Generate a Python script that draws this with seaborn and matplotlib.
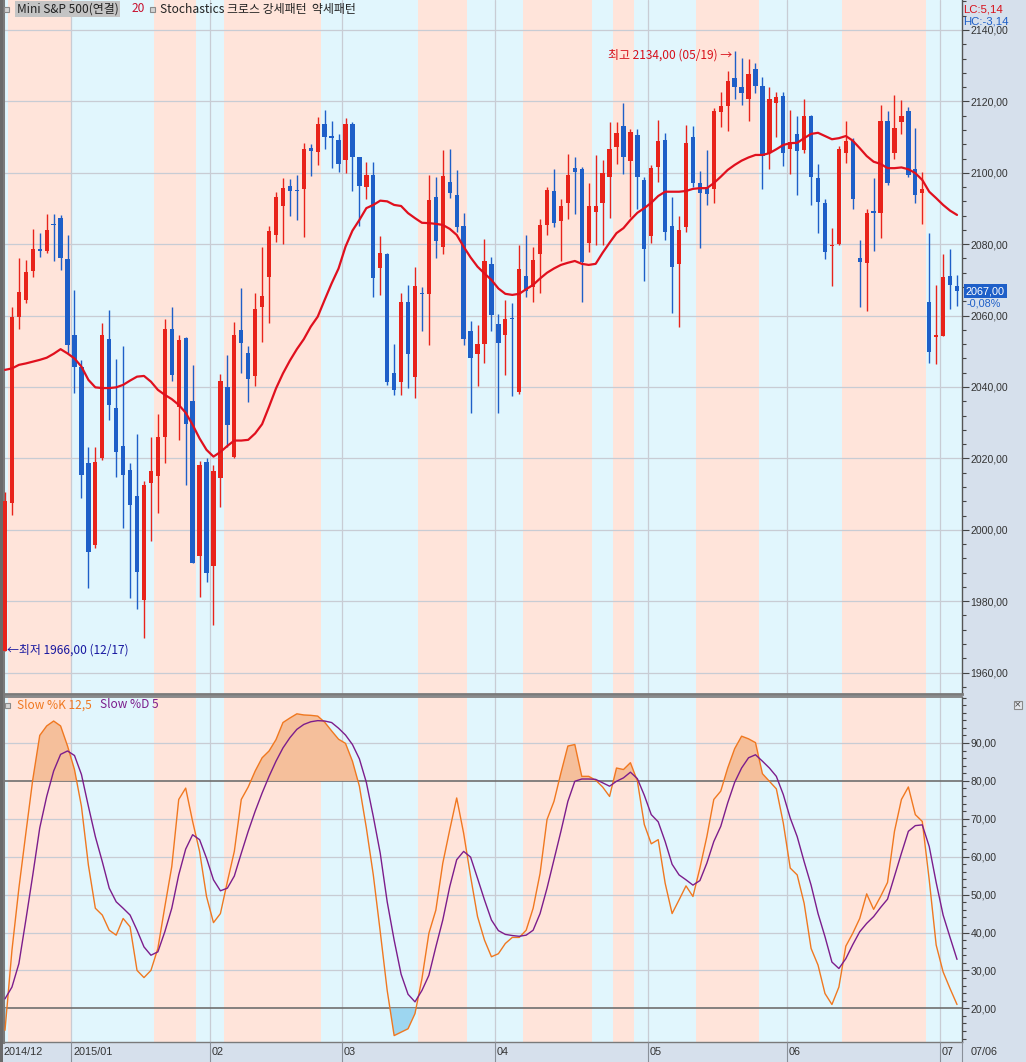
import numpy as np
import pandas as pd
import matplotlib
matplotlib.use("Agg")
import matplotlib.pyplot as plt
import seaborn as sns
from matplotlib.patches import Rectangle
from matplotlib.ticker import MultipleLocator, FuncFormatter

W, H = 1026, 1062

# trading days (US holidays off, Good Friday traded)
holidays = pd.to_datetime(["2014-12-25", "2015-01-01", "2015-01-19",
                           "2015-02-16", "2015-05-25", "2015-07-03"])
dates = pd.bdate_range("2014-12-17", "2015-07-06")
dates = dates[~dates.isin(holidays)]

opens = [1966.0, 2007.4, 2059.7, 2064.4, 2072.6, 2078.6, 2078.2, 2085.7, 2087.3, 2075.9,
         2054.6, 2045.5, 2018.6, 1995.8, 2020.0, 2053.4, 2034.0, 2023.5, 2016.8, 2009.5,
         1980.2, 2013.0, 2015.2, 2026.1, 2056.3, 2034.5, 2053.8, 2036.2, 1992.8, 2018.9,
         1990.0, 2014.4, 2040.1, 2020.5, 2056.0, 2049.4, 2043.1, 2062.3, 2070.9, 2082.6,
         2090.7, 2096.3, 2095.1, 2095.5, 2106.9, 2105.9, 2113.7, 2110.3, 2109.2, 2103.6,
         2113.7, 2104.3, 2096.1, 2099.4, 2073.2, 2077.3, 2043.8, 2041.5, 2063.9, 2042.7,
         2066.4, 2066.1, 2093.1, 2079.1, 2097.4, 2093.8, 2085.1, 2055.8, 2049.3, 2052.1,
         2074.5, 2057.7, 2054.6, 2059.4, 2038.7, 2071.1, 2068.1, 2077.3, 2085.4, 2095.0,
         2086.6, 2091.5, 2101.3, 2101.0, 2080.4, 2089.1, 2091.6, 2098.9, 2107.1, 2113.1,
         2103.4, 2110.6, 2098.0, 2082.4, 2101.5, 2109.2, 2085.1, 2074.4, 2084.9, 2109.9,
         2097.2, 2096.1, 2095.6, 2116.9, 2118.7, 2126.5, 2123.9, 2120.6, 2129.0, 2124.3,
         2105.5, 2119.6, 2121.5, 2106.6, 2110.9, 2106.4, 2115.9, 2098.5, 2091.6, 2079.5,
         2080.1, 2105.6, 2109.0, 2076.0, 2074.8, 2089.2, 2088.7, 2114.6, 2105.5, 2114.3,
         2117.4, 2101.0, 2094.4, 2063.9, 2054.1, 2054.3, 2071.1, 2068.3]
highs = [2010.7, 2062.5, 2076.1, 2075.6, 2084.2, 2083.0, 2088.5, 2088.5, 2088.2, 2082.6,
         2067.2, 2047.6, 2023.3, 2023.3, 2058.0, 2061.6, 2047.8, 2051.5, 2018.8, 2026.9,
         2013.8, 2026.1, 2032.5, 2059.1, 2062.3, 2054.6, 2054.1, 2046.2, 2019.4, 2020.0,
         2018.2, 2043.7, 2049.0, 2058.3, 2067.6, 2051.5, 2066.4, 2079.3, 2085.1, 2094.7,
         2098.5, 2098.2, 2099.4, 2108.4, 2108.1, 2115.7, 2117.6, 2114.6, 2110.9, 2115.3,
         2114.3, 2104.5, 2103.1, 2103.1, 2082.3, 2077.6, 2052.1, 2066.4, 2068.6, 2073.7,
         2068.1, 2099.4, 2098.7, 2106.4, 2106.6, 2100.8, 2088.8, 2058.6, 2057.4, 2081.4,
         2076.5, 2060.5, 2064.4, 2063.4, 2079.8, 2082.6, 2079.3, 2087.0, 2095.9, 2101.0,
         2092.6, 2105.3, 2104.3, 2101.7, 2097.1, 2105.0, 2103.6, 2114.3, 2114.3, 2119.5,
         2112.2, 2112.2, 2098.9, 2102.2, 2114.8, 2111.2, 2093.3, 2087.9, 2113.4, 2113.1,
         2100.6, 2106.4, 2118.1, 2122.7, 2128.6, 2134.0, 2132.1, 2131.8, 2130.7, 2126.7,
         2123.9, 2122.7, 2122.7, 2117.6, 2115.9, 2120.6, 2116.2, 2102.5, 2092.8, 2084.4,
         2107.5, 2114.6, 2109.7, 2081.2, 2089.8, 2098.5, 2119.0, 2117.4, 2121.8, 2120.4,
         2118.5, 2112.5, 2100.3, 2083.0, 2068.6, 2077.3, 2078.6, 2071.4]
lows = [1966.0, 2004.2, 2056.2, 2063.6, 2070.9, 2076.5, 2077.5, 2075.4, 2072.8, 2049.4,
        2038.2, 2008.8, 1983.6, 1994.8, 2019.6, 2030.8, 2014.7, 2000.4, 1980.8, 1977.7,
        1969.6, 1997.0, 2004.6, 2018.8, 2041.8, 2025.2, 2012.6, 1990.6, 1981.3, 1985.5,
        1973.3, 2006.5, 2023.3, 2020.0, 2044.0, 2035.9, 2040.3, 2052.7, 2058.0, 2080.7,
        2080.1, 2087.9, 2086.8, 2081.9, 2099.1, 2102.2, 2106.6, 2101.3, 2100.3, 2100.0,
        2095.0, 2085.1, 2092.6, 2065.1, 2065.8, 2040.6, 2037.8, 2037.8, 2039.6, 2036.8,
        2055.8, 2051.8, 2076.0, 2077.3, 2092.9, 2083.5, 2051.8, 2032.8, 2040.3, 2046.6,
        2055.8, 2032.8, 2043.4, 2037.5, 2038.1, 2065.3, 2063.9, 2066.3, 2082.6, 2084.9,
        2075.4, 2087.0, 2088.5, 2063.9, 2077.9, 2079.8, 2079.8, 2087.3, 2102.5, 2099.7,
        2087.7, 2090.0, 2069.8, 2080.2, 2097.5, 2081.2, 2060.8, 2056.7, 2083.5, 2095.9,
        2078.8, 2091.0, 2091.6, 2112.7, 2111.8, 2120.6, 2119.0, 2114.6, 2122.4, 2095.6,
        2101.0, 2110.1, 2101.9, 2099.7, 2093.8, 2105.6, 2091.0, 2083.0, 2075.8, 2068.3,
        2079.8, 2102.8, 2089.8, 2062.3, 2061.4, 2078.2, 2081.7, 2096.6, 2103.8, 2110.9,
        2098.7, 2091.6, 2085.7, 2046.8, 2046.4, 2054.3, 2061.8, 2062.7]
closes = [2008.0, 2059.7, 2066.7, 2072.3, 2078.6, 2078.2, 2084.0, 2085.3, 2076.2, 2051.8,
          2045.7, 2015.4, 1993.9, 2019.1, 2054.6, 2035.0, 2021.9, 2015.4, 2007.0, 1988.3,
          2012.6, 2016.5, 2026.1, 2056.3, 2043.4, 2053.2, 2029.6, 1990.8, 2018.2, 1988.0,
          2016.5, 2041.8, 2029.4, 2054.6, 2052.4, 2042.2, 2061.8, 2065.5, 2083.7, 2093.1,
          2095.7, 2095.0, 2094.9, 2106.6, 2106.2, 2113.7, 2109.9, 2109.7, 2102.4, 2113.7,
          2104.3, 2096.3, 2099.4, 2070.4, 2077.5, 2041.5, 2039.2, 2063.9, 2049.3, 2068.3,
          2066.0, 2092.4, 2081.0, 2099.1, 2094.4, 2084.7, 2053.4, 2048.0, 2052.1, 2075.3,
          2060.2, 2052.4, 2059.0, 2059.0, 2073.0, 2067.0, 2075.6, 2085.4, 2095.2, 2086.0,
          2090.7, 2099.4, 2100.3, 2075.1, 2090.7, 2090.7, 2099.9, 2106.6, 2111.2, 2104.3,
          2111.5, 2098.7, 2078.6, 2101.3, 2109.0, 2083.5, 2073.7, 2084.0, 2108.4, 2097.2,
          2094.4, 2094.2, 2117.4, 2118.7, 2125.8, 2124.1, 2122.3, 2127.7, 2124.3, 2104.7,
          2120.6, 2121.3, 2105.6, 2108.7, 2106.2, 2115.9, 2098.7, 2091.9, 2077.9, 2079.9,
          2106.6, 2109.0, 2092.6, 2075.1, 2088.7, 2088.8, 2114.6, 2097.1, 2112.5, 2115.9,
          2099.4, 2093.8, 2095.4, 2049.9, 2054.5, 2070.7, 2068.6, 2067.0]

ma20 = [2044.8, 2045.2, 2046.2, 2046.6, 2047.1, 2047.6, 2048.2, 2049.3, 2050.6, 2049.4,
        2048.0, 2045.7, 2042.0, 2039.9, 2039.7, 2039.7, 2039.9, 2040.6, 2041.8, 2042.9,
        2043.1, 2041.5, 2039.2, 2037.8, 2036.6, 2035.0, 2032.8, 2029.4, 2025.6, 2022.4,
        2020.5, 2021.8, 2023.5, 2025.0, 2025.0, 2025.2, 2027.0, 2029.6, 2034.5, 2039.6,
        2043.8, 2047.4, 2050.6, 2053.4, 2056.9, 2059.7, 2064.4, 2069.0, 2073.2, 2079.3,
        2083.8, 2086.8, 2090.1, 2091.0, 2092.2, 2092.0, 2091.0, 2090.7, 2088.7, 2087.3,
        2086.0, 2085.9, 2085.7, 2085.4, 2084.3, 2082.6, 2079.3, 2076.3, 2073.7, 2071.8,
        2070.0, 2067.6, 2066.1, 2065.8, 2066.1, 2067.4, 2068.6, 2070.4, 2072.0, 2073.2,
        2074.2, 2074.8, 2075.3, 2074.5, 2074.2, 2074.5, 2077.6, 2080.4, 2083.1, 2084.5,
        2086.8, 2088.8, 2090.1, 2091.6, 2093.5, 2094.7, 2094.7, 2094.7, 2094.9, 2095.5,
        2095.7, 2095.7, 2097.1, 2098.9, 2100.8, 2102.2, 2103.4, 2104.3, 2105.0, 2105.0,
        2105.5, 2106.6, 2107.8, 2108.3, 2108.4, 2109.7, 2110.9, 2111.2, 2110.3, 2109.4,
        2109.7, 2110.3, 2109.0, 2106.9, 2104.7, 2103.1, 2102.5, 2101.3, 2101.3, 2101.5,
        2101.0, 2099.9, 2098.0, 2094.7, 2092.9, 2091.0, 2089.4, 2088.2]

k_slow = [14.2, 35.3, 51.7, 66.2, 80.4, 92.0, 94.5, 95.8, 94.5, 89.2,
          83.0, 73.3, 57.8, 46.4, 44.6, 40.6, 39.3, 43.7, 41.5, 30.0,
          28.1, 30.0, 35.8, 46.8, 57.4, 75.1, 78.1, 69.3, 61.4, 49.5,
          42.6, 45.0, 53.4, 61.4, 75.1, 78.4, 82.6, 86.1, 87.9, 90.9,
          95.4, 96.6, 97.7, 97.4, 97.3, 97.1, 95.5, 93.2, 91.0, 89.9,
          85.2, 78.6, 67.6, 55.2, 40.2, 24.7, 12.8, 13.7, 14.6, 18.6,
          27.8, 39.8, 45.9, 58.3, 67.1, 75.5, 66.2, 54.8, 44.2, 38.0,
          33.6, 34.4, 37.1, 38.7, 38.7, 40.6, 46.4, 55.6, 69.8, 74.6,
          82.1, 89.2, 89.6, 81.2, 81.2, 80.2, 78.4, 75.9, 83.4, 83.0,
          84.8, 80.0, 68.5, 63.4, 64.5, 53.0, 45.0, 48.6, 52.3, 49.5,
          57.0, 65.3, 75.1, 77.3, 83.4, 88.5, 91.8, 91.1, 90.1, 81.9,
          79.9, 77.9, 68.9, 57.0, 55.2, 47.7, 35.8, 31.4, 23.9, 21.0,
          25.6, 36.4, 39.8, 43.7, 50.2, 46.1, 49.5, 53.2, 66.7, 75.1,
          78.4, 71.1, 69.3, 53.9, 36.7, 29.6, 25.2, 21.0]
d_slow = [22.5, 25.6, 31.8, 43.3, 55.2, 67.6, 75.9, 82.6, 87.0, 87.9,
          86.7, 81.7, 73.3, 65.3, 58.7, 51.7, 48.1, 46.4, 44.6, 40.6,
          36.2, 34.0, 34.9, 40.2, 46.4, 55.2, 62.0, 65.8, 64.5, 59.6,
          53.9, 51.0, 51.7, 54.9, 60.9, 66.7, 72.0, 76.8, 81.2, 85.2,
          88.7, 91.4, 93.6, 94.9, 95.6, 95.9, 95.8, 95.4, 93.9, 92.1,
          89.6, 85.8, 79.6, 70.6, 60.9, 48.1, 38.0, 29.0, 23.7, 21.7,
          24.7, 28.7, 36.2, 43.3, 52.1, 59.2, 61.4, 59.9, 54.3, 48.6,
          43.3, 40.5, 39.5, 39.2, 39.0, 39.3, 40.6, 45.0, 51.7, 59.2,
          66.7, 74.6, 79.9, 80.5, 80.5, 80.4, 79.5, 78.6, 79.9, 80.8,
          82.3, 80.6, 76.2, 71.1, 69.2, 64.0, 58.0, 55.2, 53.9, 52.5,
          53.7, 58.3, 64.0, 68.0, 74.2, 79.6, 83.4, 86.1, 86.9, 85.2,
          83.4, 81.2, 76.4, 70.2, 65.3, 58.7, 52.5, 45.0, 38.9, 32.2,
          30.5, 33.1, 36.8, 40.2, 42.4, 44.2, 46.6, 48.8, 54.9, 60.9,
          66.7, 68.2, 68.4, 62.7, 53.2, 44.6, 38.7, 32.9]

price_ticks = list(range(1960, 2141, 20))
stoch_ticks = list(range(20, 91, 10))

PINK = "#ffe4da"
CYAN = "#e1f6fd"
UP = "#e8231b"
DOWN = "#1e5fc8"
PANEL = "#d6e0ec"
GRID = "#c8ccd4"


def fx(x):
    return x / W


def fy(y):
    return 1 - y / H


def comma(v, pos=None):
    return f"{v:.2f}".replace(".", ",")


sns.set_theme(style="white")
plt.rcParams["font.family"] = ["Noto Sans CJK KR", "DejaVu Sans"]

o = np.array(opens)
hi = np.array(highs)
lo = np.array(lows)
c = np.array(closes)
k = np.array(k_slow)
d = np.array(d_slow)
n = len(dates)
idx = np.arange(n)

fig = plt.figure(figsize=(W / 100, H / 100), dpi=100, facecolor=PANEL)
ax1 = fig.add_axes([fx(3), fy(694), fx(962) - fx(3), fy(0) - fy(694)])
ax2 = fig.add_axes([fx(3), fy(1042), fx(962) - fx(3), fy(697) - fy(1042)])

xl = (-2 / 6.949, 957 / 6.949)
for ax in (ax1, ax2):
    ax.set_facecolor("white")
    ax.set_xlim(*xl)
    ax.set_xticks([])

# stochastic bull / bear background bands
bull = k > d
start = 0
for i in range(1, n + 1):
    if i == n or bull[i] != bull[start]:
        a = start - 0.5 if start > 0 else xl[0] - 1
        b = i - 0.5 if i < n else xl[1] + 1
        for ax in (ax1, ax2):
            ax.axvspan(a, b, color=PINK if bull[start] else CYAN, lw=0, zorder=0)
        start = i

# month separators
month_start = [i for i in range(1, n) if dates[i].month != dates[i - 1].month]
for ax in (ax1, ax2):
    for i in month_start:
        ax.axvline(i - 0.5, color=GRID, lw=0.9, zorder=1)

# ---- price panel
ax1.set_ylim(2140 - 664 / 3.57, 2140 + 30 / 3.57)
for v in price_ticks:
    ax1.axhline(v, color=GRID, lw=0.9, zorder=1)

cols = np.where(c >= o, UP, DOWN)
ax1.vlines(idx, lo, hi, colors=cols, lw=1.0, zorder=3)
ax1.bar(idx, np.maximum(np.abs(c - o), 0.3), bottom=np.minimum(o, c), width=0.62,
        color=cols, lw=0, zorder=3)
sns.lineplot(x=idx, y=ma20, ax=ax1, color="#e0101e", lw=1.6, zorder=4)

ax1.yaxis.tick_right()
ax1.set_yticks(price_ticks)
ax1.yaxis.set_minor_locator(MultipleLocator(4))
ax1.yaxis.set_major_formatter(FuncFormatter(comma))

ax1.text(104.7, 2133.0, "최고 2134,00 (05/19) →", color="#d8101a", fontsize=8.6,
         ha="right", va="center", zorder=6)
ax1.text(0.25, 1966.2, "←최저 1966,00 (12/17)", color="#1818a0", fontsize=8.6,
         ha="left", va="center", zorder=6)

# ---- stochastic panel
ax2.set_ylim(90 - 299 / 3.79, 90 + 46 / 3.79)
for v in stoch_ticks:
    if v in (20, 80):
        ax2.axhline(v, color="#6f6f6f", lw=1.2, zorder=2)
    else:
        ax2.axhline(v, color=GRID, lw=0.9, zorder=1)
ax2.fill_between(idx, k, 80, where=k > 80, interpolate=True, color="#f5bf9b", lw=0, zorder=2)
ax2.fill_between(idx, k, 20, where=k < 20, interpolate=True, color="#9dd6f0", lw=0, zorder=2)
sns.lineplot(x=idx, y=k, ax=ax2, color="#f07820", lw=1.0, zorder=4)
sns.lineplot(x=idx, y=d, ax=ax2, color="#7c1d8c", lw=1.0, zorder=4)

ax2.yaxis.tick_right()
ax2.set_yticks(stoch_ticks)
ax2.yaxis.set_minor_locator(MultipleLocator(2))
ax2.yaxis.set_major_formatter(FuncFormatter(comma))

for ax in (ax1, ax2):
    ax.set_ylabel("")
    ax.tick_params(axis="y", which="major", direction="out", length=5, width=0.8,
                   color="#444444", pad=1, labelsize=7.6, labelcolor="#333333")
    ax.tick_params(axis="y", which="minor", direction="out", length=3, width=0.8,
                   color="#444444", right=True, left=False)
    for lab in ax.get_yticklabels():
        lab.set_fontfamily("Liberation Sans")
    for s in ("top", "bottom", "left", "right"):
        ax.spines[s].set_visible(True)
        ax.spines[s].set_color("#7a7a7a")
        ax.spines[s].set_linewidth(1.0)
    ax.spines["left"].set_linewidth(2.2)
ax1.spines["top"].set_visible(False)
ax1.spines["bottom"].set_linewidth(2.0)
ax2.spines["top"].set_linewidth(1.2)
ax2.spines["right"].set_color("#555555")
ax1.spines["right"].set_color("#555555")

# ---- header texts
fig.patches.append(Rectangle((fx(4), fy(12)), 5 / W, 5 / H, transform=fig.transFigure,
                             facecolor="#d4d4d4", edgecolor="#8a8a8a", lw=0.8))
fig.text(fx(17), fy(9), "Mini S&P 500(연결)", fontsize=8.6, color="#222222", va="center",
         bbox=dict(facecolor="#c4c4c4", edgecolor="none", pad=1.2))
fig.text(fx(132), fy(9), "20", fontsize=8.6, color="#c8102e", va="center")
fig.patches.append(Rectangle((fx(150), fy(12)), 5 / W, 5 / H, transform=fig.transFigure,
                             facecolor="#d4d4d4", edgecolor="#8a8a8a", lw=0.8))
fig.text(fx(160), fy(9), "Stochastics 크로스 강세패턴  약세패턴", fontsize=8.6,
         color="#222222", va="center")

fig.patches.append(Rectangle((fx(5), fy(708)), 5 / W, 5 / H, transform=fig.transFigure,
                             facecolor="#d4d4d4", edgecolor="#8a8a8a", lw=0.8))
fig.text(fx(17), fy(705), "Slow %K 12,5", fontsize=8.6, color="#f07820", va="center")
fig.text(fx(100), fy(705), "Slow %D 5", fontsize=8.6, color="#7c1d8c", va="center")

fig.text(fx(963), fy(10), "LC:5,14", fontsize=8.2, color="#d8101a", va="center",
         family="Liberation Sans")
fig.text(fx(963), fy(22), "HC:-3,14", fontsize=8.2, color="#1e5fc8", va="center",
         family="Liberation Sans")

fig.text(fx(966), fy(291), comma(closes[-1]), fontsize=7.8, color="white", va="center",
         family="Liberation Sans",
         bbox=dict(facecolor=DOWN, edgecolor="none", pad=1.5))
fig.text(fx(967), fy(303), "-0,08%", fontsize=7.8, color=DOWN, va="center",
         family="Liberation Sans")

# close button of the lower panel
fig.patches.append(Rectangle((fx(1014), fy(709)), 8 / W, 8 / H, transform=fig.transFigure,
                             facecolor="#e4e8ee", edgecolor="#8a8a8a", lw=0.8))
fig.text(fx(1018), fy(704.5), "×", fontsize=6.5, color="#444444", ha="center", va="center",
         family="DejaVu Sans")

# ---- date bar
fig.patches.append(Rectangle((0, 0), 1, 20 / H, transform=fig.transFigure,
                             facecolor=PANEL, edgecolor="none", zorder=-1))
fig.text(fx(3), fy(1052), dates[0].strftime("%Y/%m"), fontsize=7.8, color="#333333",
         va="center", family="Liberation Sans")
for j, i in enumerate(month_start):
    xpix = 5 + 6.949 * (i - 0.5)
    lab = dates[i].strftime("%Y/%m") if j == 0 else dates[i].strftime("%m")
    fig.lines.append(plt.Line2D([fx(xpix), fx(xpix)], [fy(1042), 0],
                                transform=fig.transFigure, color="#8a9099", lw=0.8))
    fig.text(fx(xpix + 2), fy(1052), lab, fontsize=7.8, color="#333333", va="center",
             family="Liberation Sans")
fig.lines.append(plt.Line2D([fx(962), fx(962)], [fy(1042), 0], transform=fig.transFigure,
                            color="#8a9099", lw=0.8))
fig.text(fx(971), fy(1052), dates[-1].strftime("%m/%d"), fontsize=7.8, color="#333333",
         va="center", family="Liberation Sans")
fig.patches.append(Rectangle((0, 0), 3 / W, 1, transform=fig.transFigure,
                             facecolor="#6a6a6a", edgecolor="none"))

fig.savefig("out.png", dpi=100, facecolor=PANEL)
